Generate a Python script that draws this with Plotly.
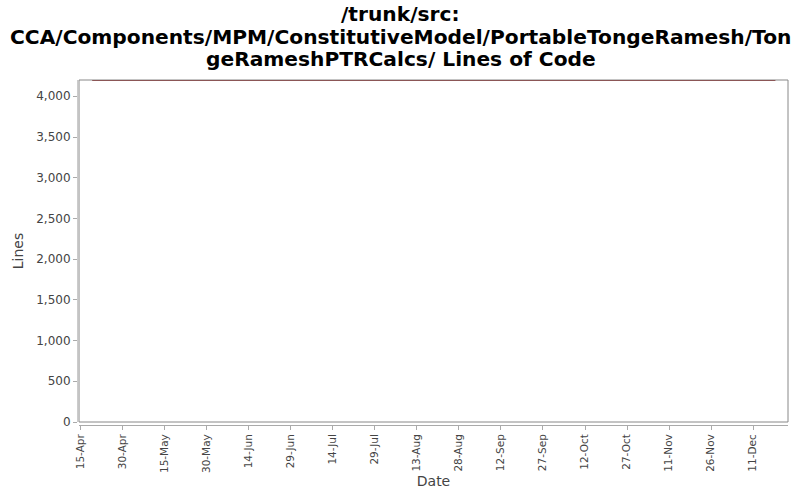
import plotly.graph_objects as go

# Lines of code over time (flat series)
dates = ["2007-04-19", "2007-06-20", "2007-09-10", "2007-11-20", "2007-12-19"]
lines = [4196, 4196, 4196, 4196, 4196]

tick_dates = ["2007-04-15", "2007-04-30", "2007-05-15", "2007-05-30", "2007-06-14",
              "2007-06-29", "2007-07-14", "2007-07-29", "2007-08-13", "2007-08-28",
              "2007-09-12", "2007-09-27", "2007-10-12", "2007-10-27", "2007-11-11",
              "2007-11-26", "2007-12-11"]
tick_labels = ["15-Apr", "30-Apr", "15-May", "30-May", "14-Jun", "29-Jun", "14-Jul",
               "29-Jul", "13-Aug", "28-Aug", "12-Sep", "27-Sep", "12-Oct", "27-Oct",
               "11-Nov", "26-Nov", "11-Dec"]
y_ticks = [0, 500, 1000, 1500, 2000, 2500, 3000, 3500, 4000]

title_lines = ["/trunk/src:",
               "CCA/Components/MPM/ConstitutiveModel/PortableTongeRamesh/Ton",
               "geRameshPTRCalcs/ Lines of Code"]

fig = go.Figure()
fig.add_trace(go.Scatter(x=dates, y=lines, mode="lines", name="Lines",
                         line=dict(color="#8e2424", width=1.5)))

# plot border box
fig.add_shape(type="rect", xref="x domain", yref="y domain", x0=0, x1=1, y0=0, y1=1,
              line=dict(color="#888888", width=1), fillcolor="rgba(0,0,0,0)")

# title, one annotation per line (plot area spans pixels x 77..788, y 80..425)
for i, txt in enumerate(title_lines):
    py = 14 + i * 22.5
    fig.add_annotation(text=f"<b>{txt}</b>", xref="paper", yref="paper",
                       x=(400.5 - 77) / 711, y=(425 - py) / 345,
                       xanchor="center", yanchor="middle", showarrow=False,
                       font=dict(family="DejaVu Sans", size=20.2, color="black"))

fig.update_layout(
    width=800, height=500,
    paper_bgcolor="white", plot_bgcolor="white",
    showlegend=False,
    margin=dict(l=77, r=12, t=80, b=75),
    font=dict(family="DejaVu Sans", color="#444444"),
)

fig.update_xaxes(
    type="date", domain=[2 / 711, 1],
    range=["2007-04-14 07:00", "2007-12-23 12:00"],
    tickmode="array", tickvals=tick_dates, ticktext=tick_labels,
    tickangle=-90, tickfont=dict(size=10.5, color="#444444"),
    ticks="outside", ticklen=4, tickcolor="#aaaaaa",
    showline=True, linecolor="#aaaaaa", linewidth=1,
    anchor="free", position=0, automargin=False,
    showgrid=False, zeroline=False,
    title=dict(text="Date", font=dict(size=14, color="#444444"), standoff=4),
)
fig.update_yaxes(
    domain=[3 / 345, 1],
    range=[0, 4200],
    tickmode="array", tickvals=y_ticks, tickformat=",d",
    tickfont=dict(size=12, color="#444444"),
    ticks="outside", ticklen=4, tickcolor="#aaaaaa",
    showline=True, linecolor="#cccccc", linewidth=1,
    anchor="free", position=0, automargin=False,
    showgrid=False, zeroline=False,
    title=dict(text="Lines", font=dict(size=14, color="#444444"), standoff=8),
)

fig.write_html("out.html", config={"displayModeBar": False},
               post_script="document.body.style.margin='0';")
